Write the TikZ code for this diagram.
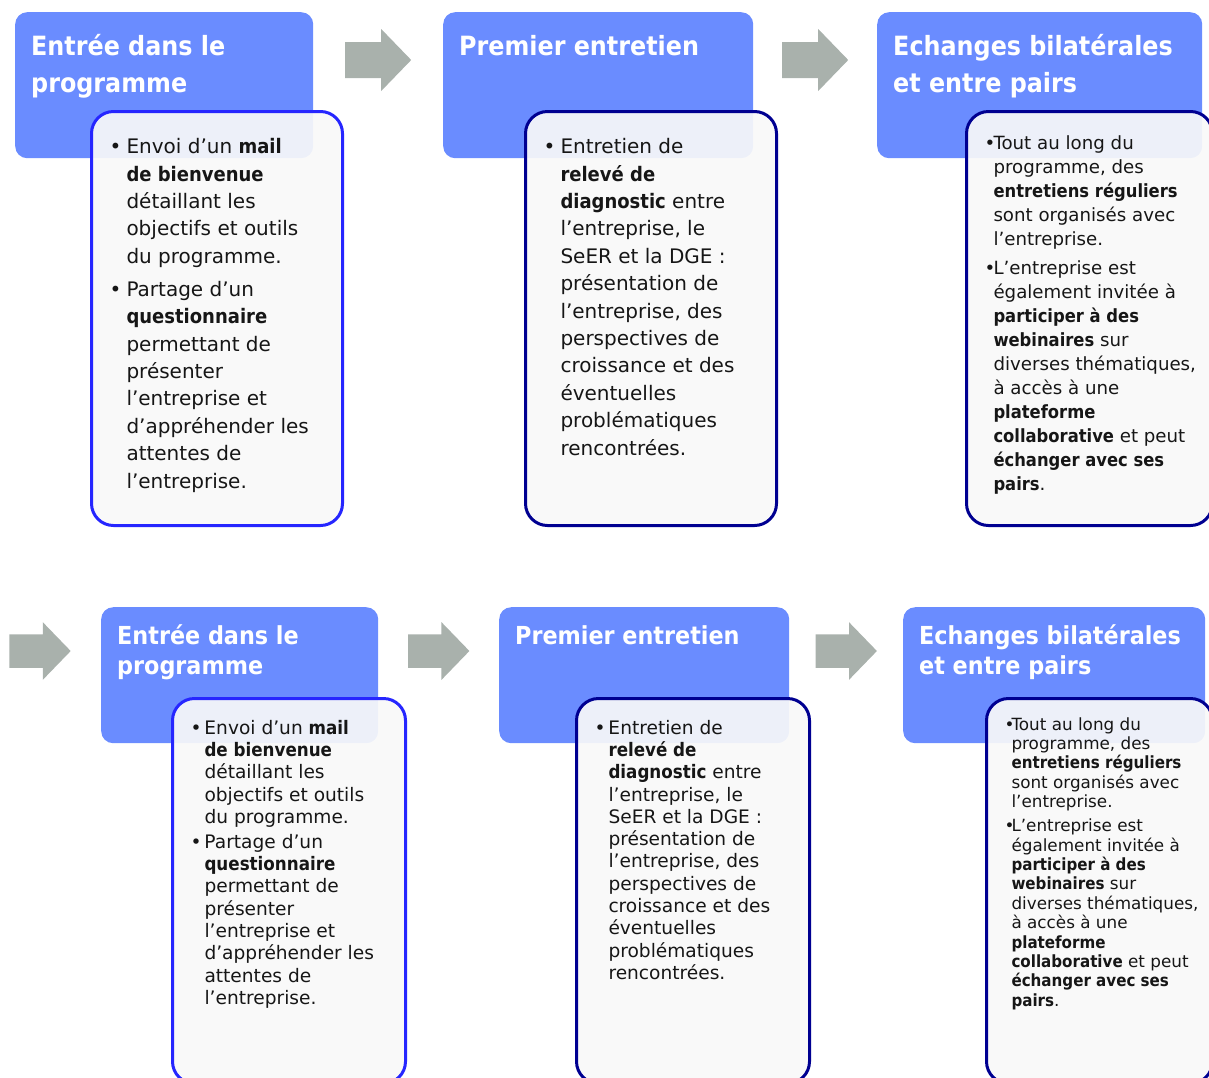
\documentclass[tikz,border=0pt]{standalone}
\usepackage{fontspec}
\setmainfont{DejaVu Sans}[BoldFont={DejaVu Sans Condensed Bold}]
\usetikzlibrary{positioning, calc}
\definecolor{bleuentete}{HTML}{6A8CFF}
\definecolor{bleuvif}{HTML}{2626FF}
\definecolor{bleufonce}{HTML}{000091}
\definecolor{grisfond}{HTML}{F9F9F9}
\definecolor{grisfleche}{HTML}{A9B1AC}
\definecolor{noirtexte}{HTML}{161616}

\newlength{\pucel}
\newcommand{\puce}{\par\noindent\hangindent=\pucel\hangafter=1\makebox[\pucel][l]{\strut\textbullet}}
\newcommand{\saut}[1]{\par\vspace{#1}}

\begin{document}
\begin{tikzpicture}[
    x=1pt, y=-1pt,
    entete/.style={
        rectangle,
        rounded corners=12pt,
        fill=bleuentete,
        text=white,
        inner xsep=16pt,
        inner ysep=0pt,
        anchor=north west,
        font=\bfseries
    },
    corps/.style={
        rectangle,
        rounded corners=22pt,
        draw=bleufonce,
        line width=3pt,
        fill=grisfond,
        fill opacity=0.92,
        text opacity=1,
        text=noirtexte,
        inner xsep=18pt,
        inner ysep=0pt,
        anchor=north west
    },
    pics/flechegrise/.style={
        code={\fill[grisfleche] (-33,-18) -- (3,-18) -- (3,-31) -- (33,0) -- (3,31) -- (3,18) -- (-33,18) -- cycle;}
    }
]
\useasboundingbox (0,0) rectangle (1209,1077);
\clip (0,0) rectangle (1209,1077);

% ---- top row
\node[entete] (e1) at (15,12) {\parbox[t][146pt][t]{266pt}{\fontsize{26.5}{37}\selectfont\vspace*{17pt}\strut Entrée dans le\\ programme}};
\node[entete] (e2) at (443,12) {\parbox[t][146pt][t]{278pt}{\fontsize{26.5}{37}\selectfont\vspace*{17pt}\strut Premier entretien}};
\node[entete] (e3) at (877,12) {\parbox[t][146pt][t]{293pt}{\fontsize{26.5}{37}\selectfont\vspace*{17pt}\strut Echanges bilatérales\\ et entre pairs}};

\node[corps, draw=bleuvif] (c1) at (90,110) {\parbox[t][414pt][t]{215pt}{\rightskip=0pt plus 1fil\fontsize{20}{27.4}\selectfont\setlength{\pucel}{17pt}\vspace*{23pt}%
\puce Envoi d’un \textbf{mail}\\ \textbf{de bienvenue}\\ détaillant les\\ objectifs et outils\\ du programme.\saut{5.6pt}
\puce Partage d’un\\ \textbf{questionnaire}\\ permettant de\\ présenter\\ l’entreprise et\\ d’appréhender les\\ attentes de\\ l’entreprise.}};

\node[corps] (c2) at (524,110) {\parbox[t][414pt][t]{215pt}{\rightskip=0pt plus 1fil\fontsize{20}{27.4}\selectfont\setlength{\pucel}{17pt}\vspace*{23pt}%
\puce Entretien de\\ \textbf{relevé de}\\ \textbf{diagnostic} entre\\ l’entreprise, le\\ SeER et la DGE :\\ présentation de\\ l’entreprise, des\\ perspectives de\\ croissance et des\\ éventuelles\\ problématiques\\ rencontrées.}};

\node[corps] (c3) at (965,110) {\parbox[t][414pt][t]{210pt}{\rightskip=0pt plus 1fil\fontsize{18.2}{24}\selectfont\setlength{\pucel}{9pt}\vspace*{21pt}%
\puce Tout au long du\\ programme, des\\ \textbf{entretiens réguliers}\\ sont organisés avec\\ l’entreprise.\saut{5pt}
\puce L’entreprise est\\ également invitée à\\ \textbf{participer à des}\\ \textbf{webinaires} sur\\ \mbox{diverses thématiques,}\\ à accès à une\\ \textbf{plateforme}\\ \textbf{collaborative} et peut\\ \textbf{échanger avec ses}\\ \textbf{pairs}.}};

\pic at ($(e1.north east)!0.5!(e2.north west)+(0,48)$) {flechegrise};
\pic at ($(e2.north east)!0.5!(e3.north west)+(0,48)$) {flechegrise};

% ---- bottom row
\node[entete] (e4) at (101,607) {\parbox[t][136pt][t]{245pt}{\fontsize{24.8}{30}\selectfont\vspace*{16pt}\strut Entrée dans le\\ programme}};
\node[entete] (e5) at (499,607) {\parbox[t][136pt][t]{258pt}{\fontsize{24.8}{30}\selectfont\vspace*{16pt}\strut Premier entretien}};
\node[entete] (e6) at (903,607) {\parbox[t][136pt][t]{270pt}{\fontsize{24.8}{30}\selectfont\vspace*{16pt}\strut Echanges bilatérales\\ et entre pairs}};

\node[corps, draw=bleuvif] (c4) at (171,697) {\parbox[t][385pt][t]{197pt}{\rightskip=0pt plus 1fil\fontsize{18.6}{22.3}\selectfont\setlength{\pucel}{14pt}\vspace*{20pt}%
\puce Envoi d’un \textbf{mail}\\ \textbf{de bienvenue}\\ détaillant les\\ objectifs et outils\\ du programme.\saut{2.7pt}
\puce Partage d’un\\ \textbf{questionnaire}\\ permettant de\\ présenter\\ l’entreprise et\\ d’appréhender les\\ attentes de\\ l’entreprise.}};

\node[corps] (c5) at (575,697) {\parbox[t][385pt][t]{197pt}{\rightskip=0pt plus 1fil\fontsize{18.6}{22.3}\selectfont\setlength{\pucel}{14pt}\vspace*{20pt}%
\puce Entretien de\\ \textbf{relevé de}\\ \textbf{diagnostic} entre\\ l’entreprise, le\\ SeER et la DGE :\\ présentation de\\ l’entreprise, des\\ perspectives de\\ croissance et des\\ éventuelles\\ problématiques\\ rencontrées.}};

\node[corps] (c6) at (985,697) {\parbox[t][385pt][t]{190pt}{\rightskip=0pt plus 1fil\fontsize{16.8}{19.4}\selectfont\setlength{\pucel}{7pt}\vspace*{18pt}%
\puce Tout au long du\\ programme, des\\ \textbf{entretiens réguliers}\\ sont organisés avec\\ l’entreprise.\saut{4.6pt}
\puce L’entreprise est\\ également invitée à\\ \textbf{participer à des}\\ \textbf{webinaires} sur\\ \mbox{diverses thématiques,}\\ à accès à une\\ \textbf{plateforme}\\ \textbf{collaborative} et peut\\ \textbf{échanger avec ses}\\ \textbf{pairs}.}};

\pic[scale=0.93] at ($(e4.north west)+(-61,44)$) {flechegrise};
\pic[scale=0.93] at ($(e4.north east)!0.5!(e5.north west)+(0,44)$) {flechegrise};
\pic[scale=0.93] at ($(e5.north east)!0.5!(e6.north west)+(0,44)$) {flechegrise};

\end{tikzpicture}
\end{document}
